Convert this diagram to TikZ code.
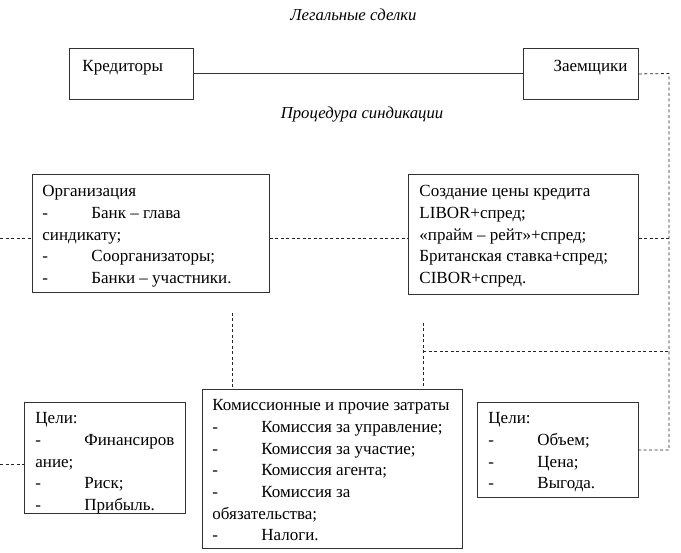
\documentclass[tikz,border=0pt]{standalone}
\usepackage{fontspec}
\setmainfont{Liberation Serif}
\newcommand{\bt}[4]{\parbox[c][#2][t]{#1}{\fontsize{17}{21.7}\selectfont\raggedright\vspace*{#3}\strut #4}}
\newcommand{\btr}[4]{\parbox[c][#2][t]{#1}{\fontsize{17}{21.7}\selectfont\raggedleft\vspace*{#3}\strut #4}}
\newcommand{\di}[1]{\makebox[49pt][l]{-}#1}
\begin{document}
\begin{tikzpicture}[x=1pt,y=-1pt,
  box/.style={draw=black!80, line width=0.9pt, inner ysep=0pt, anchor=north west},
  conn/.style={draw=black!80, line width=0.9pt},
  dconn/.style={draw=black!85, line width=0.8pt, dash pattern=on 3pt off 2.5pt},
  title/.style={font=\fontsize{16.7}{20}\selectfont\itshape, inner sep=0pt}]
\useasboundingbox (0,0) rectangle (681,553);

\node[title] (t1) at (353.5,15) {Легальные сделки};
\node[title] (t2) at (362,115) {Процедура синдикации};

\node[box, inner xsep=13pt] (kred) at (69,48) {\bt{98pt}{51pt}{7.5pt}{Кредиторы}};
\node[box, inner xsep=11pt] (zaem) at (523,48) {\btr{93pt}{51pt}{7.5pt}{Заемщики}};

\node[box, inner xsep=10pt] (org) at (32,174) {\bt{217pt}{118pt}{7pt}{Организация\\
\di{Банк – глава}\\
синдикату;\\
\di{Соорганизаторы;}\\
\di{Банки – участники.}}};

\node[box, inner xsep=11pt] (sozd) at (408,174) {\bt{208pt}{120pt}{7pt}{Создание цены кредита\\
LIBOR+спред;\\
«прайм – рейт»+спред;\\
Британская ставка+спред;\\
CIBOR+спред.}};

\node[box, inner xsep=11pt] (cel1) at (24,402) {\bt{139pt}{111pt}{6pt}{Цели:\\
\di{Финансиров}\\
ание;\\
\di{Риск;}\\
\di{Прибыль.}}};

\node[box, inner xsep=10pt] (kom) at (202,389) {\bt{240pt}{159pt}{6pt}{Комиссионные и прочие затраты\\
\di{Комиссия за управление;}\\
\di{Комиссия за участие;}\\
\di{Комиссия агента;}\\
\di{Комиссия за}\\
обязательства;\\
\di{Налоги.}}};

\node[box, inner xsep=11pt] (cel2) at (477,402) {\bt{139pt}{95pt}{6pt}{Цели:\\
\di{Объем;}\\
\di{Цена;}\\
\di{Выгода.}}};

% connectors
\draw[conn] (kred.east) -- (zaem.west);

\coordinate (rtop) at (669,73.5);
\draw[dconn] (zaem.east) -- (rtop) |- (cel2.east);

\coordinate (midL) at (0,238);
\draw[dconn] (midL) -- (midL -| org.west);
\draw[dconn] (org.east |- midL) -- (sozd.west |- midL);
\draw[dconn] (sozd.east |- midL) -- (midL -| rtop);

\coordinate (lowL) at (0,464);
\draw[dconn] (lowL) -- (lowL -| cel1.west);

\coordinate (v1) at (232,313);
\draw[dconn] (v1) -- (v1 |- kom.north);
\coordinate (v2) at (423,323);
\draw[dconn] (v2) -- (v2 |- kom.north);
\coordinate (h2) at (423,351);
\draw[dconn] (h2) -- (h2 -| rtop);
\end{tikzpicture}
\end{document}
